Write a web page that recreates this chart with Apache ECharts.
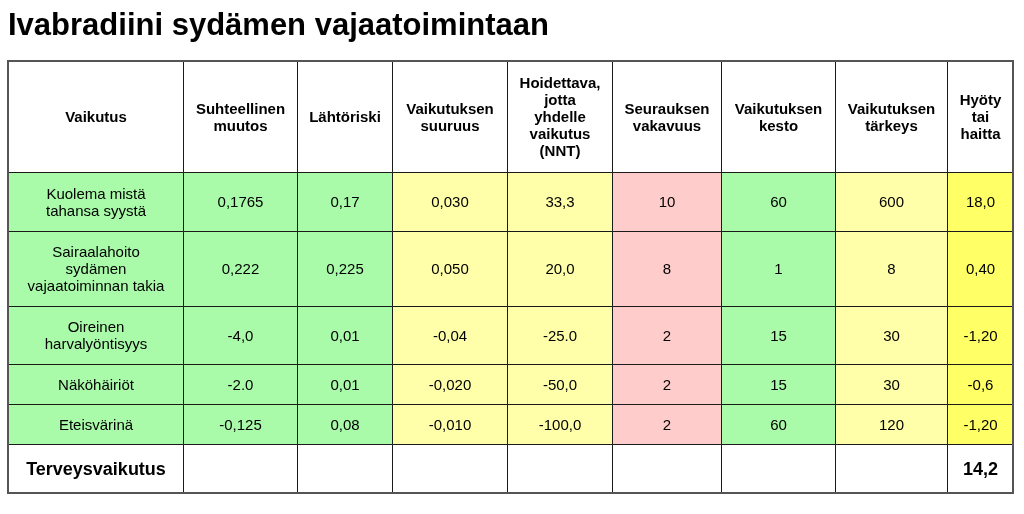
<!DOCTYPE html>
<html>
<head>
<meta charset="utf-8">
<script src="https://cdn.jsdelivr.net/npm/echarts@6/dist/echarts.min.js"></script>
<style>
html,body{margin:0;padding:0;background:#fff;}
#chart{width:1024px;height:514px;}
</style>
</head>
<body>
<div id="chart"></div>
<script>
// ---- data ----
var titleText = 'Ivabradiini sydämen vajaatoimintaan';
var headers = ['Vaikutus', 'Suhteellinen\nmuutos', 'Lähtöriski', 'Vaikutuksen\nsuuruus',
  'Hoidettava,\njotta\nyhdelle\nvaikutus\n(NNT)', 'Seurauksen\nvakavuus', 'Vaikutuksen\nkesto',
  'Vaikutuksen\ntärkeys', 'Hyöty\ntai\nhaitta'];
var effects = ['Kuolema mistä\ntahansa syystä', 'Sairaalahoito\nsydämen\nvajaatoiminnan takia',
  'Oireinen\nharvalyöntisyys', 'Näköhäiriöt', 'Eteisvärinä'];
var relativeChange = ['0,1765', '0,222', '-4,0', '-2.0', '-0,125'];
var baselineRisk = ['0,17', '0,225', '0,01', '0,01', '0,08'];
var effectSize = ['0,030', '0,050', '-0,04', '-0,020', '-0,010'];
var nnt = ['33,3', '20,0', '-25.0', '-50,0', '-100,0'];
var severity = ['10', '8', '2', '2', '2'];
var duration = ['60', '1', '15', '15', '60'];
var importance = ['600', '8', '30', '30', '120'];
var benefitHarm = ['18,0', '0,40', '-1,20', '-0,6', '-1,20'];
var totalLabel = 'Terveysvaikutus';
var totalValue = '14,2';

// ---- layout / style (not data) ----
var colWidths = [175, 114, 95, 115, 105, 109, 114, 112, 66];
var rowHeights = [111, 59, 75, 58, 40, 40, 49];
var GREEN = '#a9fba9', LYELLOW = '#ffffaa', PINK = '#ffcccc', YELLOW = '#ffff66';
var colFill = [GREEN, GREEN, GREEN, LYELLOW, LYELLOW, PINK, GREEN, LYELLOW, YELLOW];

var colEdges = [0]; colWidths.forEach(function (w, i) { colEdges.push(colEdges[i] + w); });
var rowEdges = [0]; rowHeights.forEach(function (h, i) { rowEdges.push(rowEdges[i] + h); });
var totalW = colEdges[colEdges.length - 1], totalH = rowEdges[rowEdges.length - 1];

var bodyCols = [effects, relativeChange, baselineRisk, effectSize, nnt, severity, duration, importance, benefitHarm];
var FONT = '"Liberation Sans", Arial, sans-serif';

// cells: [col, row, text, kind]
var cells = [];
headers.forEach(function (h, c) { cells.push([c, 0, h, 'head']); });
for (var r = 0; r < effects.length; r++) {
  for (var c = 0; c < bodyCols.length; c++) cells.push([c, r + 1, bodyCols[c][r], 'body']);
}
var lastRow = effects.length + 1;
for (var c2 = 0; c2 < headers.length; c2++) {
  var t = c2 === 0 ? totalLabel : (c2 === headers.length - 1 ? totalValue : '');
  cells.push([c2, lastRow, t, 'total']);
}

function renderCell(params, api) {
  var c = api.value(0), r = api.value(1);
  var d = cells[params.dataIndex];
  var p0 = api.coord([colEdges[c], rowEdges[r]]);
  var p1 = api.coord([colEdges[c + 1], rowEdges[r + 1]]);
  var x0 = Math.round(p0[0]) + 0.5, y0 = Math.round(p0[1]) + 0.5;
  var x1 = Math.round(p1[0]) + 0.5, y1 = Math.round(p1[1]) + 0.5;
  var kind = d[3];
  var fill = kind === 'body' ? colFill[c] : '#ffffff';
  var font = kind === 'head' ? 'bold 15px ' + FONT : (kind === 'total' ? 'bold 18px ' + FONT : '15px ' + FONT);
  return {
    type: 'group',
    children: [
      { type: 'rect', shape: { x: x0, y: y0, width: x1 - x0, height: y1 - y0 },
        style: { fill: fill, stroke: '#1a1a1a', lineWidth: 1 } },
      { type: 'text', style: { text: d[2], x: (x0 + x1) / 2, y: (y0 + y1) / 2 + 1,
        align: 'center', verticalAlign: 'middle', font: font, lineHeight: 17, fill: '#000' } }
    ]
  };
}

function renderFrame(params, api) {
  var p0 = api.coord([0, 0]), p1 = api.coord([totalW, totalH]);
  return { type: 'rect', shape: { x: Math.round(p0[0]), y: Math.round(p0[1]),
    width: Math.round(p1[0]) - Math.round(p0[0]), height: Math.round(p1[1]) - Math.round(p0[1]) },
    style: { fill: 'none', stroke: '#555', lineWidth: 2 } };
}

var chart = echarts.init(document.getElementById('chart'), null, { renderer: 'canvas' });
chart.setOption({
  animation: false,
  backgroundColor: '#fff',
  title: { text: titleText, left: 3, top: 6,
    textStyle: { fontFamily: FONT, fontSize: 31, fontWeight: 'bold', color: '#000' } },
  grid: { left: 8, top: 61, width: totalW, height: totalH },
  xAxis: { type: 'value', min: 0, max: totalW, show: false },
  yAxis: { type: 'value', min: 0, max: totalH, inverse: true, show: false },
  series: [
    { type: 'custom', renderItem: renderCell, data: cells.map(function (d) { return [d[0], d[1]]; }) },
    { type: 'custom', renderItem: renderFrame, data: [[0, 0]], z: 5 }
  ]
});
</script>
</body>
</html>
